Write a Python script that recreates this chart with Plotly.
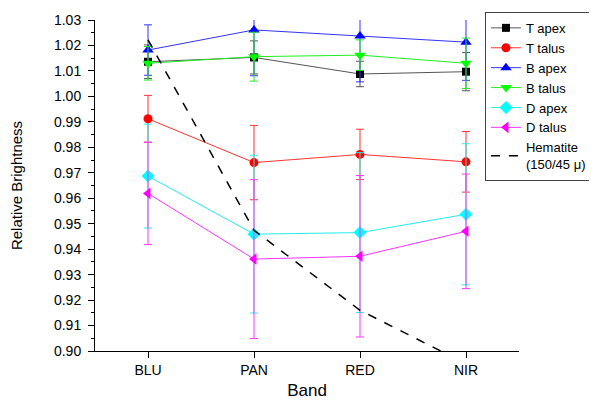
import plotly.graph_objects as go

bands = ["BLU", "PAN", "RED", "NIR"]

t_apex = [1.0136, 1.0153, 1.0088, 1.0097]
t_apex_err = [0.0066, 0.0065, 0.0050, 0.0075]
t_talus = [0.9912, 0.9740, 0.9772, 0.9743]
t_talus_err = [0.0092, 0.0146, 0.0099, 0.0119]
b_apex = [1.0182, 1.0261, 1.0237, 1.0213]
b_apex_err = [0.0099, 0.0180, 0.0180, 0.0150]
b_talus = [1.0130, 1.0156, 1.0162, 1.0130]
b_talus_err = [0.0066, 0.0096, 0.0060, 0.0099]
d_apex = [0.9687, 0.9459, 0.9465, 0.9537]
d_apex_err = [0.0204, 0.0310, 0.0314, 0.0277]
d_talus = [0.9619, 0.9361, 0.9372, 0.9470]
d_talus_err = [0.0201, 0.0312, 0.0317, 0.0225]
hematite = [1.0222, 0.9474, 0.9160, 0.8950]

xs = list(range(len(bands)))

series = [
    ("T apex", t_apex, t_apex_err, "#000000", "#555555", "square", 8),
    ("T talus", t_talus, t_talus_err, "#ff0000", "#ff3333", "circle", 9),
    ("B apex", b_apex, b_apex_err, "#0000ff", "#3333ff", "triangle-up", 10),
    ("B talus", b_talus, b_talus_err, "#00ff00", "#22ee22", "triangle-down", 10),
    ("D apex", d_apex, d_apex_err, "#00ffff", "#22eeee", "diamond", 10),
    ("D talus", d_talus, d_talus_err, "#ff00ff", "#ff33ff", "triangle-left", 10),
]

fig = go.Figure()
for name, ys, errs, mcol, lcol, sym, sz in series:
    fig.add_trace(go.Scatter(
        x=xs, y=ys, name=name, mode="lines+markers",
        line=dict(color=lcol, width=1),
        marker=dict(symbol=sym, size=sz, color=mcol),
        error_y=dict(type="data", array=errs, visible=True, color=lcol,
                     thickness=1, width=4),
    ))

fig.add_trace(go.Scatter(
    x=xs, y=hematite, name="Hematite<br>(150/45 μ)", mode="lines",
    line=dict(color="black", width=1.5, dash="dash"),
))

font_family = "Liberation Sans, Arial, sans-serif"
# page body has an 8px margin, so the figure is 589x392 offset by 8px
fig.update_layout(
    width=589, height=392,
    margin=dict(l=87, r=78, t=12, b=49, autoexpand=False),
    plot_bgcolor="white", paper_bgcolor="white",
    font=dict(family=font_family, color="black", size=12),
    showlegend=True,
    legend=dict(
        xref="container", yref="container",
        x=0.8098, y=0.99, xanchor="left", yanchor="top",
        bordercolor="#444444", borderwidth=1, bgcolor="white",
        font=dict(size=13, family=font_family),
        tracegroupgap=0, itemwidth=30,
    ),
    xaxis=dict(
        range=[-0.5, 3.5], tickvals=xs, ticktext=bands,
        showline=True, linecolor="black", linewidth=1,
        ticks="outside", ticklen=6, tickcolor="black",
        showgrid=False, zeroline=False, automargin=False,
        tickfont=dict(size=14), ticklabelstandoff=0,
        title=dict(text="Band", font=dict(size=17), standoff=14),
    ),
    yaxis=dict(
        range=[0.90, 1.03], tickvals=[0.90 + 0.01 * i for i in range(14)],
        tickformat=".2f",
        showline=True, linecolor="black", linewidth=1,
        ticks="outside", ticklen=6, tickcolor="black",
        minor=dict(ticks="outside", ticklen=3, dtick=0.005, tickcolor="black"),
        showgrid=False, zeroline=False, automargin=False,
        tickfont=dict(size=14), ticklabelstandoff=4,
        title=dict(text="Relative Brightness", font=dict(size=15), standoff=34),
    ),
)

fig.write_html("out.html")
